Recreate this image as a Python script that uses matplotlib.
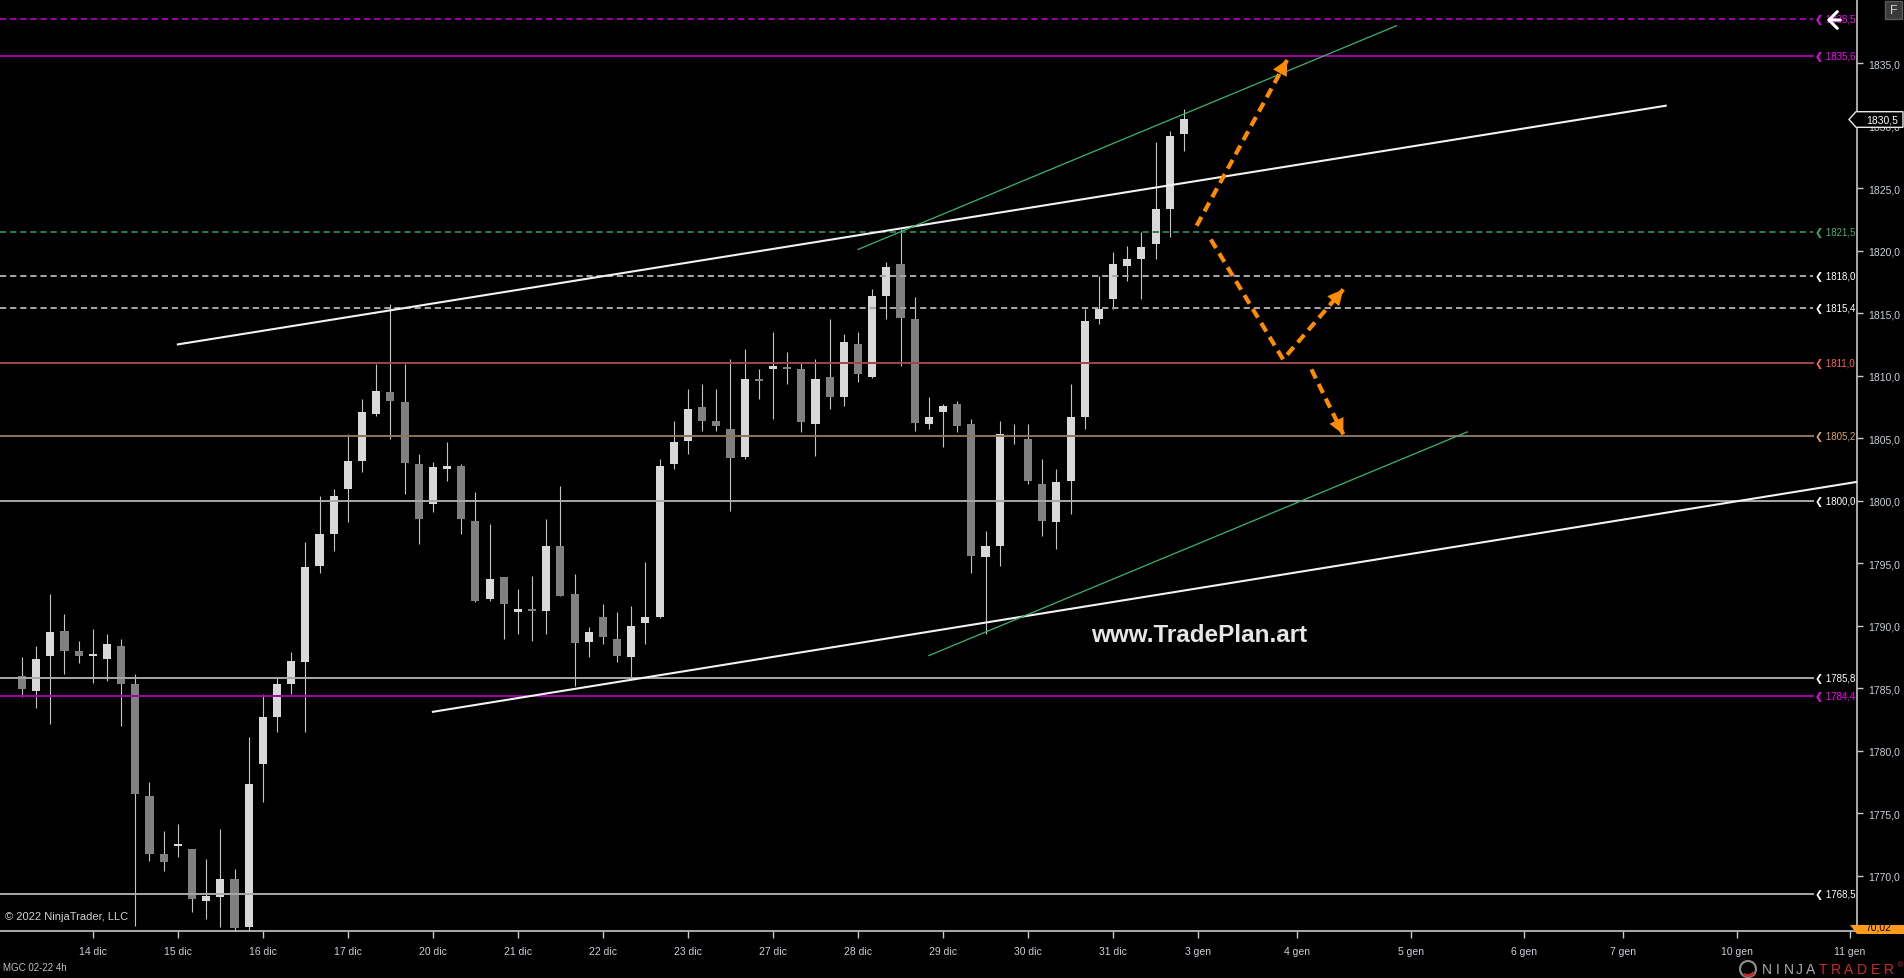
import matplotlib
matplotlib.use("Agg")
import matplotlib.pyplot as plt
from matplotlib.patches import Polygon, Rectangle, Circle, Wedge, FancyArrowPatch
from matplotlib.transforms import IdentityTransform, Bbox, blended_transform_factory

plt.rcParams['font.family'] = ['Liberation Sans', 'DejaVu Sans']

# MGC 02-22, 4h bars (one value per bar)
opens = [1786.0, 1784.8, 1787.6, 1789.6, 1788.0, 1787.6, 1787.3, 1788.4, 1785.3, 1776.4,
         1771.7, 1772.4, 1772.1, 1768.0, 1768.3, 1769.7, 1765.9, 1778.9, 1782.7, 1785.3,
         1787.1, 1794.8, 1797.3, 1800.9, 1803.2, 1806.9, 1808.7, 1807.9, 1802.9, 1799.7,
         1802.5, 1802.8, 1798.4, 1792.1, 1793.9, 1791.1, 1791.25, 1791.2, 1796.4, 1792.5,
         1788.7, 1790.7, 1788.9, 1787.5, 1790.2, 1790.7, 1802.9, 1804.8, 1807.5, 1806.4,
         1805.7, 1803.5, 1809.7, 1810.5, 1810.7, 1810.5, 1806.1, 1809.9, 1808.3, 1812.5,
         1809.9, 1816.4, 1818.9, 1814.5, 1806.1, 1807.1, 1807.7, 1806.1, 1795.5, 1796.4,
         1805.2, 1804.9, 1801.3, 1798.3, 1801.6, 1806.7, 1814.5, 1816.1, 1818.8, 1819.3,
         1820.5, 1823.3, 1829.3]
highs = [1787.5, 1788.4, 1792.5, 1790.9, 1788.8, 1789.7, 1789.3, 1788.9, 1786.1, 1777.5,
         1773.6, 1774.1, 1772.1, 1771.3, 1773.7, 1770.5, 1781.1, 1784.5, 1785.9, 1787.9,
         1796.7, 1800.4, 1800.9, 1805.3, 1808.1, 1810.9, 1815.7, 1810.9, 1803.7, 1803.1,
         1804.7, 1802.9, 1800.7, 1798.1, 1793.9, 1792.9, 1794.0, 1798.5, 1801.2, 1794.1,
         1789.9, 1791.7, 1791.1, 1791.6, 1795.1, 1803.3, 1806.4, 1808.9, 1809.3, 1808.9,
         1811.3, 1812.1, 1810.5, 1813.5, 1811.9, 1811.1, 1811.3, 1814.5, 1813.3, 1813.5,
         1816.9, 1819.1, 1821.7, 1816.3, 1808.3, 1807.7, 1808.0, 1806.5, 1797.6, 1806.4,
         1806.1, 1806.1, 1803.3, 1802.5, 1809.3, 1815.3, 1818.0, 1819.9, 1820.4, 1821.5,
         1828.7, 1829.6, 1831.3]
lows = [1784.3, 1783.4, 1782.1, 1786.1, 1787.0, 1785.4, 1785.6, 1782.0, 1766.0, 1771.2,
        1770.4, 1771.5, 1767.1, 1766.5, 1765.9, 1765.5, 1765.6, 1775.9, 1781.5, 1784.5,
        1781.5, 1794.2, 1796.0, 1798.3, 1802.3, 1806.8, 1804.9, 1800.5, 1796.5, 1799.1,
        1801.6, 1797.3, 1791.9, 1792.0, 1788.9, 1789.3, 1788.8, 1789.3, 1792.4, 1785.2,
        1787.5, 1788.5, 1787.1, 1785.8, 1788.5, 1790.6, 1802.5, 1803.7, 1805.6, 1805.6,
        1799.2, 1803.3, 1808.1, 1806.5, 1809.3, 1805.5, 1803.6, 1807.3, 1807.6, 1809.5,
        1809.8, 1814.5, 1810.8, 1805.6, 1805.7, 1804.3, 1805.5, 1794.2, 1789.3, 1794.8,
        1804.5, 1801.3, 1797.2, 1796.1, 1798.9, 1805.7, 1814.1, 1815.3, 1817.6, 1816.1,
        1819.3, 1821.1, 1828.0]
closes = [1784.9, 1787.3, 1789.5, 1788.0, 1787.6, 1787.6, 1788.5, 1785.3, 1776.5, 1771.7,
          1771.1, 1772.4, 1768.1, 1768.4, 1769.7, 1765.8, 1777.3, 1782.7, 1785.3, 1787.2,
          1794.7, 1797.3, 1800.4, 1803.2, 1807.1, 1808.8, 1808.0, 1803.0, 1798.5, 1802.7,
          1802.8, 1798.5, 1792.0, 1793.7, 1791.7, 1791.3, 1791.2, 1796.4, 1792.4, 1788.6,
          1789.5, 1789.1, 1787.6, 1790.0, 1790.7, 1802.8, 1804.7, 1807.3, 1806.4, 1806.0,
          1803.4, 1809.7, 1809.6, 1810.8, 1810.5, 1806.3, 1809.7, 1808.3, 1812.7, 1810.1,
          1816.4, 1818.7, 1814.6, 1806.2, 1806.7, 1807.6, 1806.0, 1795.6, 1796.4, 1805.3,
          1805.2, 1801.6, 1798.4, 1801.5, 1806.7, 1814.4, 1815.3, 1818.9, 1819.3, 1820.3,
          1823.3, 1829.2, 1830.5]

date_ticks = [5, 11, 17, 23, 29, 35, 41, 47, 53, 59, 65, 71, 77, 83, 90, 98, 106, 113, 121, 129]
date_labels = ['14 dic', '15 dic', '16 dic', '17 dic', '20 dic', '21 dic', '22 dic', '23 dic',
               '27 dic', '28 dic', '29 dic', '30 dic', '31 dic', '3 gen', '4 gen', '5 gen',
               '6 gen', '7 gen', '10 gen', '11 gen']

price_ticks = [1770, 1775, 1780, 1785, 1790, 1795, 1800, 1805, 1810, 1815, 1820, 1825, 1830, 1835]

level_prices = [1838.5, 1835.6, 1821.5, 1818.0, 1815.4, 1811.0, 1805.2, 1800.0, 1785.8, 1784.4, 1768.5]
level_line_colors = ['#a000a8', '#a000a8', '#2e7d4f', '#a8a8a8', '#a8a8a8', '#a04848', '#8c7558',
                     '#a8a8a8', '#a8a8a8', '#a000a8', '#a8a8a8']
level_text_colors = ['#ff00ff', '#ff00ff', '#3cb371', '#ffffff', '#ffffff', '#ff6060', '#d8a868',
                     '#ffffff', '#ffffff', '#ff00ff', '#ffffff']
level_dashed = [True, False, True, True, True, False, False, False, False, False, False]

white_trends = [[(11.0, 1812.5), (116.0, 1831.6)],
                [(29.0, 1783.1), (129.5, 1801.5)]]
green_trends = [[(59.0, 1820.1), (97.0, 1838.0)],
                [(64.0, 1787.6), (102.0, 1805.5)]]

# planned moves (orange dashed arrows)
plan_paths = [[(82.9, 1822.0), (89.3, 1835.3)],
              [(83.9, 1820.9), (89.0, 1811.3), (93.25, 1816.9)],
              [(91.0, 1810.5), (93.25, 1805.3)]]

last_price = 1830.5

W, H = 1904, 979
fig = plt.figure(figsize=(W / 100, H / 100), dpi=100, facecolor='black')
ax = fig.add_axes([0, 47 / H, 1857 / W, 932 / H], facecolor='black')

# candles
xs = list(range(len(opens)))
up_col, down_col = '#d8d8d8', '#808080'
bottoms, heights, colors = [], [], []
for o, c in zip(opens, closes):
    bottoms.append(min(o, c))
    heights.append(max(abs(c - o), 0.09))
    colors.append(up_col if c >= o else down_col)
ax.vlines(xs, lows, highs, color='#c4c4c4', lw=0.8, zorder=2)
ax.bar(xs, heights, bottom=bottoms, width=0.57, color=colors, linewidth=0, zorder=3)

# horizontal levels + labels at right
lab_tr = blended_transform_factory(ax.transAxes, ax.transData)
for p, lc, tc, dash in zip(level_prices, level_line_colors, level_text_colors, level_dashed):
    if dash:
        ax.axhline(p, xmax=0.9763, color=lc, lw=1.4, dashes=(3.2, 2), zorder=4)
    else:
        ax.axhline(p, xmax=0.9763, color=lc, lw=1.4, zorder=4)
    ax.text(0.9774, p, '❮ ' + f'{p:.1f}'.replace('.', ','), transform=lab_tr, color=tc,
            fontsize=7, va='center', ha='left', zorder=6)

# trend lines
for (a, b) in white_trends:
    ax.plot([a[0], b[0]], [a[1], b[1]], color='#f2f2f2', lw=1.5, zorder=5)
for (a, b) in green_trends:
    ax.plot([a[0], b[0]], [a[1], b[1]], color='#3cb371', lw=0.9, zorder=5)

# orange plan arrows
orange = '#ff8c00'
for path in plan_paths:
    px = [q[0] for q in path]
    py = [q[1] for q in path]
    ax.plot(px, py, color=orange, lw=3, dashes=(2.4, 1.5), zorder=6, solid_capstyle='butt')
    ax.annotate('', xy=path[-1], xytext=path[-2],
                arrowprops=dict(arrowstyle='-|>', mutation_scale=28, color=orange, lw=0,
                                shrinkA=0, shrinkB=0), zorder=7)

ax.set_xlim(-1.55, 129.5)
ax.set_ylim(1765.56, 1840.14)

ax.set_xticks(date_ticks)
ax.set_xticklabels(date_labels)
ax.set_yticks(price_ticks)
ax.set_yticklabels([f'{v:.1f}'.replace('.', ',') for v in price_ticks])
ax.yaxis.tick_right()
ax.tick_params(axis='y', direction='out', length=4, width=1, color='#c8c8c8',
               labelcolor='#c8d0d8', labelsize=7.5, pad=4)
ax.tick_params(axis='x', direction='out', length=5, width=1, color='#c8c8c8',
               labelcolor='#c8d0d8', labelsize=7.5, pad=6)
for s in ['top', 'left']:
    ax.spines[s].set_visible(False)
for s in ['right', 'bottom']:
    ax.spines[s].set_color('#c8c8c8')
    ax.spines[s].set_linewidth(1.2)

ax.text(0.6459, 0.3176, 'www.TradePlan.art', transform=ax.transAxes, color='#e6e6e6',
        fontsize=17.5, fontweight='bold', ha='center', va='center', zorder=8)

# --- figure decorations, placed in pixels (y from top) ---
pix = IdentityTransform()


def fy(y):
    return H - y


fig.text(5 / W, 1 - 917 / H, '© 2022 NinjaTrader, LLC', color='#d0d0d0', fontsize=8, va='center')
fig.text(3 / W, 1 - 968 / H, 'MGC 02-22 4h', color='#c0c0c0', fontsize=7, va='center')

# current price marker
fig.add_artist(Polygon([(1849, fy(120.5)), (1856, fy(112.7)), (1903, fy(112.7)),
                        (1903, fy(128.3)), (1856, fy(128.3))], closed=True,
                       facecolor='black', edgecolor='#e8e8e8', lw=1, transform=pix, zorder=10))
fig.text(1866 / W, 1 - 120.5 / H, f'{last_price:.1f}'.replace('.', ','), color='white',
         fontsize=7.5, va='center', zorder=11)

# "F" button
fig.add_artist(Rectangle((1885, fy(20)), 17, 18, facecolor='#3a3a3a', edgecolor='#5a5a5a',
                         lw=1, transform=pix, zorder=10))
fig.text(1893.5 / W, 1 - 11 / H, 'F', color='#d0d0d0', fontsize=9, ha='center', va='center', zorder=11)

# white arrow icon over the top label
fig.add_artist(FancyArrowPatch((1843, fy(21)), (1824, fy(21)), arrowstyle='->,head_length=0.5,head_width=0.5',
                               mutation_scale=12, lw=2.2, color='white', transform=pix, zorder=12))

# orange tab at bottom right
fig.add_artist(Polygon([(1850, fy(926)), (1904, fy(926)), (1904, fy(935)), (1857, fy(935))],
                       closed=True, facecolor='#ff9a1a', edgecolor='none', transform=pix, zorder=10))
tab_txt = fig.text(1878 / W, 1 - 928 / H, '70,02', color='black', fontsize=7.5,
                   ha='center', va='center', zorder=11)
tab_txt.set_clip_box(Bbox([[1850, fy(935)], [1904, fy(926)]]))
tab_txt.set_clip_on(True)

# NinjaTrader logo
fig.add_artist(Circle((1748, fy(970)), 8, facecolor='none', edgecolor='#8a8a8a', lw=1.6,
                      transform=pix, zorder=10))
fig.add_artist(Wedge((1748, fy(970)), 8, 230, 330, width=3, facecolor='#c1272d',
                     edgecolor='none', transform=pix, zorder=11))
for k, ch in enumerate('NINJA'):
    fig.text((1761.5 + (k + 0.5) * 10.8) / W, 1 - 970 / H, ch, color='#a8a8a8', fontsize=10,
             ha='center', va='center')
for k, ch in enumerate('TRADER'):
    fig.text((1816 + (k + 0.5) * 13.2) / W, 1 - 970 / H, ch, color='#d0262e', fontsize=10,
             ha='center', va='center')
fig.text(1900 / W, 1 - 966 / H, '®', color='#d0262e', fontsize=5, ha='center', va='center')

fig.savefig('out.png', dpi=100, facecolor='black')
plt.close(fig)
